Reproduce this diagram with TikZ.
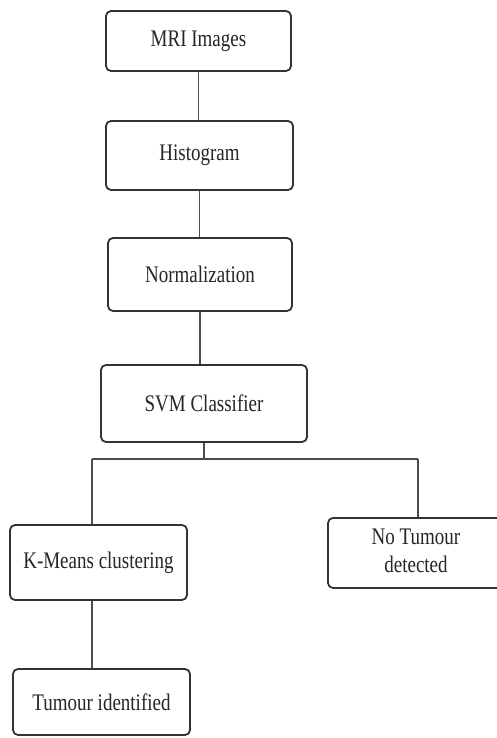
\documentclass[tikz,border=0pt]{standalone}
\usepackage{fontspec}
\setmainfont{Liberation Serif}
\newcommand{\vtxt}[1]{\scalebox{1}[1.25]{#1}}
\begin{document}
\begin{tikzpicture}[x=1pt,y=1pt,
  box/.style={draw=black!80, line width=1.8pt, rounded corners=5pt, fill=white,
    inner sep=0pt, font=\fontsize{19}{22.4}\selectfont, text=black!85},
  link/.style={draw=black!70, line width=1.9pt}]
\useasboundingbox (0,0) rectangle (497,738);
\node[box, minimum width=185, minimum height=60] (mri) at (198.5,697) {\vtxt{MRI Images}};
\node[box, minimum width=187, minimum height=69] (hist) at (199.5,582.5) {\vtxt{Histogram}};
\node[box, minimum width=184, minimum height=73] (norm) at (200,463.5) {\vtxt{Normalization}};
\node[box, minimum width=206, minimum height=77] (svm) at (204,334.5) {\vtxt{SVM Classifier}};
\node[box, minimum width=177, minimum height=75] (km) at (98.5,175.5) {\vtxt{K-Means clustering}};
\node[box, minimum width=176, minimum height=70] (nt) at (416,185) {\vtxt{\begin{tabular}{@{}c@{}}No Tumour\\detected\end{tabular}}};
\node[box, minimum width=177, minimum height=66] (ti) at (101.5,36) {\vtxt{Tumour identified}};
\coordinate (jl) at (92,279);
\coordinate (jr) at (418,279);
\draw[link] (mri.south) -- (mri.south |- hist.north);
\draw[link] (hist.south) -- (hist.south |- norm.north);
\draw[link] (norm.south) -- (norm.south |- svm.north);
\draw[link] (svm.south) -- (svm.south |- jl);
\draw[link] (jl) -- (jr);
\draw[link] (jl) -- (jl |- km.north);
\draw[link] (jr) -- (jr |- nt.north);
\draw[link] (jl |- km.south) -- (jl |- ti.north);
\end{tikzpicture}
\end{document}
